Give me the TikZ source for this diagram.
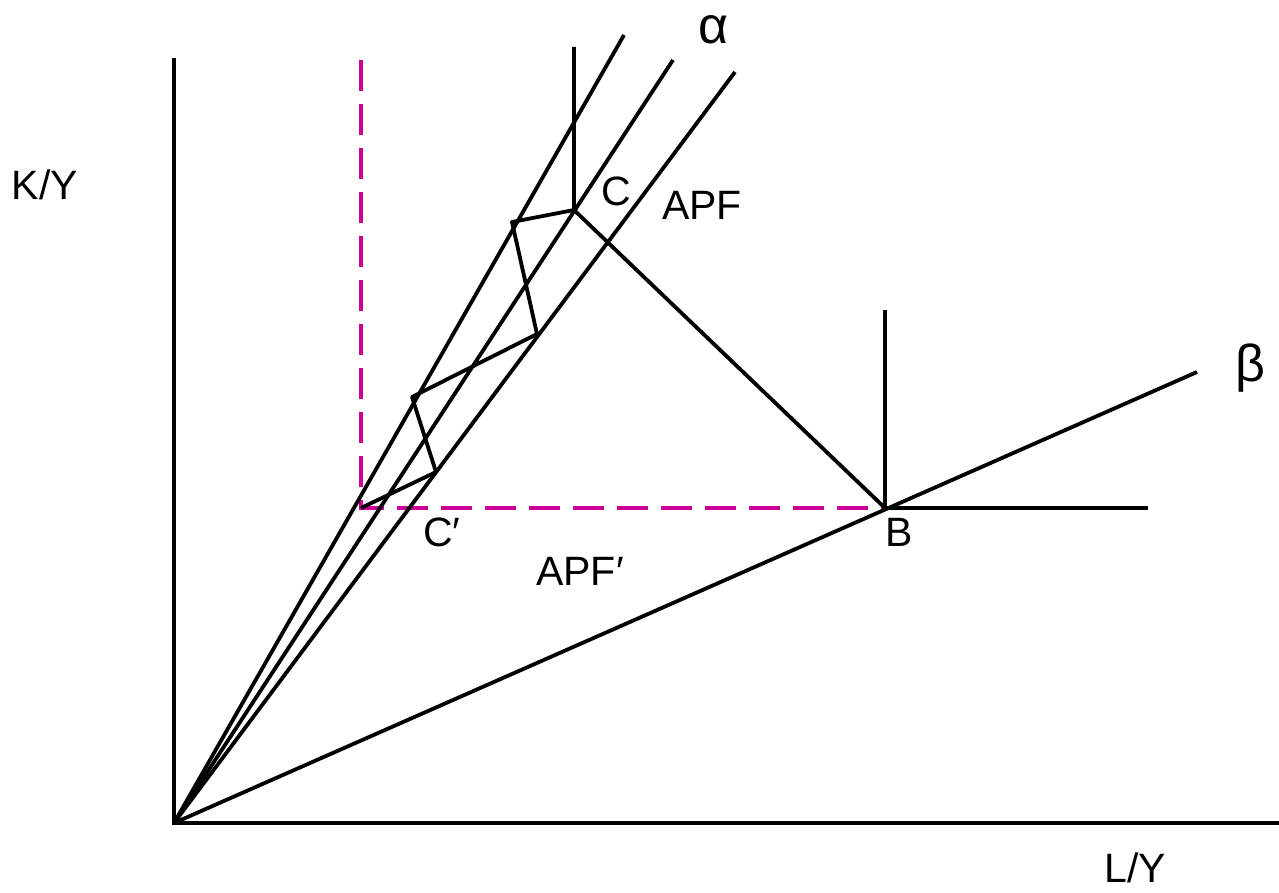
\documentclass[tikz,border=0pt]{standalone}
\usepackage{fontspec}
\setmainfont{Liberation Sans}
\usetikzlibrary{positioning}
\definecolor{guidemagenta}{RGB}{204,0,153}

\begin{document}
\begin{tikzpicture}[x=0.5pt, y=-0.5pt,
    axis/.style={line width=2.4pt, line cap=rect},
    ray/.style={line width=1.9pt},
    guide/.style={line width=1.9pt, guidemagenta, dash pattern=on 15.5pt off 6.5pt},
    lbl/.style={font=\fontsize{20.5}{24}\selectfont, inner sep=0pt},
    greek/.style={font=\fontsize{26}{30}\selectfont, inner sep=0pt},
]
    \useasboundingbox (0,0) rectangle (1279,893);

    % Points
    \coordinate (O) at (174, 823);
    \coordinate (ytop) at (174, 60);
    \coordinate (xend) at (1279, 823);
    \coordinate (r1) at (624, 35);
    \coordinate (r2) at (673, 60);
    \coordinate (r3) at (735, 72);
    \coordinate (rb) at (1197, 372);
    \coordinate (C) at (574, 210);
    \coordinate (Ctop) at (574, 47);
    \coordinate (B) at (885, 508);
    \coordinate (Btop) at (885, 310);
    \coordinate (Bend) at (1148, 508);
    \coordinate (Cp) at (361, 508);
    \coordinate (gtop) at (361, 60);
    \coordinate (z1) at (512, 222);
    \coordinate (z2) at (537, 334);
    \coordinate (z3) at (412, 397);
    \coordinate (z4) at (436, 472);

    % Guide lines
    \draw[guide] (gtop) -- (Cp) -- (B);

    % Axes
    \draw[axis] (ytop) -- (O) -- (xend);

    % Rays
    \draw[ray] (O) -- (r1);
    \draw[ray] (O) -- (r2);
    \draw[ray] (O) -- (r3);
    \draw[ray] (O) -- (rb);

    % Isoquant corners and frontier
    \draw[ray] (Ctop) -- (C) -- (B);
    \draw[ray] (Btop) -- (B) -- (Bend);
    \draw[ray, line join=round] (C) -- (z1) -- (z2) -- (z3) -- (z4) -- (Cp);

    % Labels
    \node[lbl] (lblKY) at (45, 185) {K/Y};
    \node[lbl] (lblLY) at (1135, 868) {L/Y};
    \node[greek] (lblalpha) at (714, 30) {α};
    \node[greek] (lblbeta) at (1250, 368) {β};
    \node[lbl] (lblC) at (616, 191) {C};
    \node[lbl] (lblAPF) at (702, 205) {APF};
    \node[lbl] (lblB) at (899, 532) {B};
    \node[lbl] (lblCp) at (442, 532) {C′};
    \node[lbl] (lblAPFp) at (580, 571) {APF′};
\end{tikzpicture}
\end{document}
